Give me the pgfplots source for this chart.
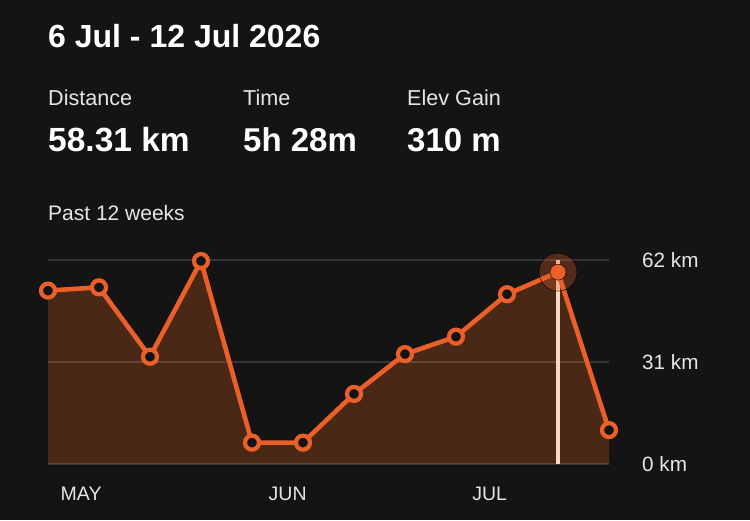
\documentclass[border=0pt]{standalone}
\usepackage{pgfplots}
\pgfplotsset{compat=1.18}
\usepackage{fontspec}
\setmainfont{Liberation Sans}
\definecolor{bg}{HTML}{141414}
\definecolor{org}{HTML}{EA5F2A}
\definecolor{fillc}{HTML}{4A2816}
\definecolor{hl}{HTML}{F7D9C6}
\definecolor{lbl}{HTML}{E6E6E6}
\begin{document}
\begin{tikzpicture}[x=1pt,y=1pt]
\fill[bg] (0,0) rectangle (750,520);
% header texts
\node[anchor=base west, inner sep=0, text=white] at (48,520-48) {\fontsize{32}{36}\selectfont\bfseries 6 Jul - 12 Jul 2026};
\node[anchor=base west, inner sep=0, text=lbl] at (48,520-106) {\fontsize{21.6}{25}\selectfont Distance};
\node[anchor=base west, inner sep=0, text=lbl] at (243,520-106) {\fontsize{21.6}{25}\selectfont Time};
\node[anchor=base west, inner sep=0, text=lbl] at (407,520-106) {\fontsize{21.6}{25}\selectfont Elev Gain};
\node[anchor=base west, inner sep=0, text=white] at (48,520-151.5) {\fontsize{33.5}{38}\selectfont\bfseries 58.31 km};
\node[anchor=base west, inner sep=0, text=white] at (243,520-151.5) {\fontsize{33}{38}\selectfont\bfseries 5h 28m};
\node[anchor=base west, inner sep=0, text=white] at (407,520-151.5) {\fontsize{33}{38}\selectfont\bfseries 310 m};
\node[anchor=base west, inner sep=0, text=lbl] at (48,520-220.7) {\fontsize{21}{25}\selectfont Past 12 weeks};
\begin{axis}[
  at={(48pt,56pt)}, anchor=south west,
  scale only axis, width=561pt, height=204pt,
  xmin=0, xmax=11, ymin=0, ymax=62,
  clip=false,
  axis line style={draw=none},
  tick style={draw=none},
  xtick={0.65,4.7,8.66},
  xticklabels={MAY,JUN,JUL},
  ytick={0,31,62},
  yticklabels={0 km,31 km,62 km},
  yticklabel pos=right,
  yticklabel style={anchor=west, inner sep=0pt, xshift=33pt, text=lbl, font=\fontsize{20.7}{24}\selectfont},
  xticklabel style={anchor=center, inner sep=0pt, yshift=-30pt, text=lbl, font=\fontsize{19.5}{24}\selectfont},
  /pgf/number format/assume math mode=true,
]
\addplot[fill=fillc, draw=none, forget plot] coordinates {
(0,52.7) (1,53.7) (2,32.6) (3,61.7) (4,6.5) (5,6.5) (6,21.3) (7,33.4) (8,38.7) (9,51.6) (10,58.31) (11,10.3)
} \closedcycle;
\addplot[draw=white, draw opacity=0.14, line width=1.6pt, forget plot] coordinates {(0,62) (11,62)};
\addplot[draw=white, draw opacity=0.14, line width=1.6pt, forget plot] coordinates {(0,31) (11,31)};
\addplot[draw=white, draw opacity=0.14, line width=1.6pt, forget plot] coordinates {(0,0) (11,0)};
\addplot[draw=hl, line width=3.2pt, forget plot] coordinates {(10,0) (10,62)};
\addplot[only marks, mark=*, mark size=19pt, draw=none, fill=org, fill opacity=0.3, forget plot] coordinates {(10,58.31)};
\addplot[draw=org, line width=4.6pt, line join=round, mark=none] coordinates {
(0,52.7) (1,53.7) (2,32.6) (3,61.7) (4,6.5) (5,6.5) (6,21.3) (7,33.4) (8,38.7) (9,51.6) (10,58.31) (11,10.3)
};
\addplot[only marks, mark=*, mark size=7pt, draw=org, fill=bg, line width=4.2pt] coordinates {
(0,52.7) (1,53.7) (2,32.6) (3,61.7) (4,6.5) (5,6.5) (6,21.3) (7,33.4) (8,38.7) (9,51.6) (11,10.3)
};
\addplot[only marks, mark=*, mark size=8pt, draw=none, fill=org] coordinates {(10,58.31)};
\end{axis}
\end{tikzpicture}
\end{document}
